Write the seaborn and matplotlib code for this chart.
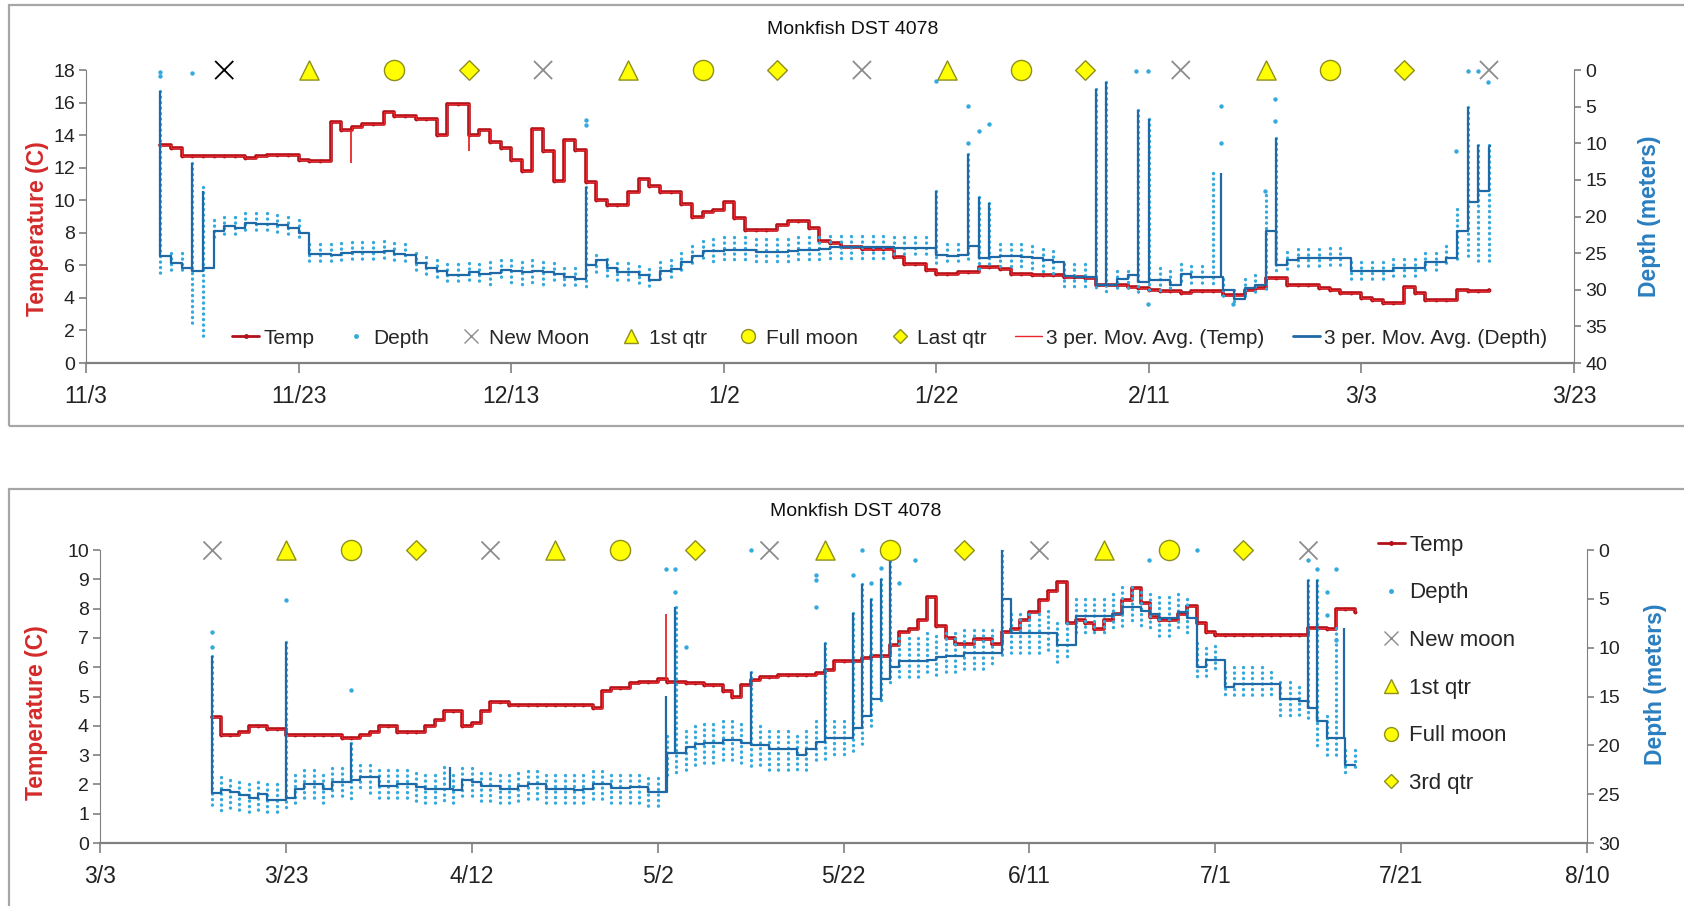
import numpy as np
import pandas as pd
import matplotlib
matplotlib.use('Agg')
import matplotlib.pyplot as plt
import matplotlib.dates as mdates
from matplotlib.lines import Line2D
from matplotlib.patches import Rectangle
from matplotlib.ticker import FixedLocator
import seaborn as sns

sns.set_style('white')
plt.rcParams['font.family'] = ['Liberation Sans', 'DejaVu Sans']

RED = '#b3121a'
MA_RED = '#e8262b'
LIGHT = '#33a9dd'
DARK = '#1f69a6'
GRAY = '#8c8c8c'
YEL = '#ffff00'
YEDGE = '#8f8f1c'
AXC = '#808080'

# ---------- panel 1 : Nov 2009 - Mar 2010 (days counted from 11/3) ----------
top_origin = '2009-11-03'
top_first_day = 7
top_temp = [
    13.4, 13.2, 12.7, 12.7, 12.7, 12.7, 12.7, 12.7, 12.6, 12.7,
    12.8, 12.8, 12.8, 12.5, 12.4, 12.4, 14.8, 14.3, 14.5, 14.7,
    14.7, 15.4, 15.2, 15.2, 15.0, 15.0, 14.0, 15.9, 15.9, 14.0,
    14.3, 13.6, 13.2, 12.5, 11.8, 14.4, 13.0, 11.2, 13.7, 13.1,
    11.1, 10.0, 9.7, 9.7, 10.5, 11.3, 10.9, 10.5, 10.5, 9.8,
    9.0, 9.3, 9.4, 9.9, 8.9, 8.2, 8.2, 8.2, 8.5, 8.7,
    8.7, 8.3, 7.5, 7.4, 7.1, 7.1, 7.0, 7.0, 7.0, 6.5,
    6.1, 6.1, 5.7, 5.5, 5.5, 5.6, 5.6, 5.9, 5.9, 5.8,
    5.5, 5.5, 5.4, 5.4, 5.4, 5.3, 5.3, 5.2, 4.8, 4.8,
    4.8, 4.7, 4.6, 4.5, 4.4, 4.4, 4.3, 4.4, 4.4, 4.4,
    4.2, 4.2, 4.5, 4.6, 5.2, 5.2, 4.8, 4.8, 4.8, 4.6,
    4.5, 4.3, 4.3, 4.0, 3.9, 3.7, 3.7, 4.7, 4.3, 3.9,
    3.9, 3.9, 4.5, 4.4, 4.4, 4.5]
top_depth = [
    25.4, 26.3, 27.0, 27.5, 27.0, 22.0, 21.3, 21.6, 20.9, 21.0,
    21.0, 21.2, 21.5, 22.2, 25.1, 25.1, 25.3, 25.0, 24.9, 24.8,
    24.8, 24.7, 25.1, 25.2, 26.3, 27.0, 27.5, 28.0, 28.0, 27.6,
    27.8, 27.7, 27.3, 27.5, 27.6, 27.4, 27.6, 27.8, 28.3, 28.5,
    26.6, 26.0, 27.0, 27.6, 27.6, 28.0, 28.6, 27.5, 27.2, 26.2,
    25.4, 24.7, 24.7, 24.6, 24.6, 24.6, 24.8, 24.8, 24.8, 24.7,
    24.6, 24.6, 24.5, 24.2, 24.2, 24.2, 24.2, 24.2, 24.2, 24.3,
    24.3, 24.3, 24.3, 25.3, 25.4, 25.3, 24.0, 25.7, 25.5, 25.4,
    25.4, 25.5, 25.6, 26.0, 26.2, 28.1, 28.2, 28.2, 29.3, 29.3,
    28.5, 28.0, 29.0, 28.6, 28.6, 29.3, 27.8, 28.3, 28.3, 28.3,
    30.0, 31.3, 29.8, 29.3, 22.0, 26.6, 26.0, 25.7, 25.7, 25.7,
    25.6, 25.6, 27.5, 27.5, 27.5, 27.5, 27.0, 27.0, 27.0, 26.2,
    26.2, 25.6, 22.0, 18.0, 16.5, 10.5]
top_depth_lo = [
    2.9, 25.0, 25.0, 12.7, 16.0, 20.5, 20.0, 20.0, 19.5, 19.5,
    19.5, 19.8, 20.0, 20.5, 23.8, 23.8, 23.8, 23.6, 23.5, 23.5,
    23.5, 23.3, 23.6, 23.8, 25.0, 25.5, 26.0, 26.5, 26.5, 26.3,
    26.5, 26.2, 26.0, 26.0, 26.2, 26.0, 26.2, 26.3, 27.0, 27.0,
    16.0, 25.2, 25.8, 26.3, 26.3, 26.8, 27.2, 26.2, 26.0, 25.0,
    24.0, 23.3, 23.0, 22.8, 22.8, 22.8, 23.0, 23.0, 23.0, 23.0,
    22.8, 22.8, 22.8, 22.7, 22.7, 22.7, 22.7, 22.7, 22.7, 22.8,
    22.8, 22.8, 22.8, 16.5, 23.8, 23.8, 11.5, 17.4, 18.1, 23.8,
    23.8, 23.8, 24.0, 24.5, 24.7, 26.5, 26.5, 26.5, 2.6, 1.7,
    27.5, 27.5, 5.4, 6.7, 27.0, 27.5, 26.5, 26.8, 26.8, 14.0,
    28.5, 30.0, 28.5, 28.0, 17.0, 9.3, 24.8, 24.5, 24.5, 24.5,
    24.3, 24.3, 26.2, 26.2, 26.2, 26.2, 25.8, 25.8, 25.8, 25.0,
    25.0, 24.0, 19.0, 5.0, 10.3, 10.2]
top_depth_hi = [
    28.0, 27.5, 27.7, 35.0, 37.0, 23.5, 23.0, 22.8, 22.5, 22.5,
    22.5, 22.5, 22.5, 23.5, 26.3, 26.3, 26.5, 26.3, 26.3, 26.5,
    26.3, 26.3, 26.6, 26.8, 27.7, 28.3, 28.8, 29.5, 29.5, 29.2,
    29.3, 29.3, 28.8, 29.5, 29.3, 29.2, 29.3, 29.3, 29.7, 29.8,
    30.0, 27.8, 28.2, 28.8, 28.8, 29.3, 29.8, 28.8, 28.5, 27.5,
    26.8, 26.2, 26.2, 26.3, 26.3, 26.2, 26.3, 26.3, 26.3, 26.2,
    26.2, 26.0, 26.0, 25.8, 25.8, 25.8, 25.8, 25.8, 25.8, 25.8,
    25.8, 25.8, 25.8, 26.8, 26.8, 26.8, 26.5, 27.2, 27.0, 27.0,
    27.0, 27.3, 27.5, 27.8, 28.0, 30.0, 30.0, 30.0, 30.2, 30.3,
    30.3, 30.5, 30.3, 30.3, 30.5, 30.5, 29.2, 29.8, 29.8, 29.8,
    31.5, 32.0, 31.0, 30.5, 30.0, 27.5, 27.2, 27.0, 27.0, 27.0,
    27.0, 26.8, 28.8, 28.8, 28.8, 28.6, 28.4, 28.2, 28.2, 27.5,
    27.3, 26.5, 26.0, 26.0, 26.8, 26.8]
top_spike_day = [7, 10, 11, 47, 80, 83, 84, 85, 95, 96, 99, 100, 106.8, 112, 130, 131, 132.1]
top_spike_depth = [2.9, 12.7, 16.5, 16.0, 16.5, 11.5, 17.4, 18.1, 2.6, 1.7, 5.4, 6.7, 14.0, 9.3, 5.0, 10.3, 10.2]
top_stray_day = [7, 7, 10, 47, 47, 80, 83, 83, 84, 85, 98.8, 99.9, 99.9, 106.8, 106.8, 107.9,
                 110.9, 111.9, 111.9, 128.9, 130, 131, 131.9]
top_stray_depth = [0.3, 0.8, 0.4, 6.8, 7.5, 1.5, 4.9, 9.9, 8.3, 7.4, 0.2, 0.2, 32.0, 4.9, 9.9, 32.0,
                   16.5, 4.0, 7.0, 11.0, 0.2, 0.2, 1.7]
top_temp_spike_day = [24.9, 36.0]
top_temp_spike_val = [12.3, 13.0]
top_new = ['2009-11-16', '2009-12-16', '2010-01-15', '2010-02-14', '2010-03-15']
top_first = ['2009-11-24', '2009-12-24', '2010-01-23', '2010-02-22']
top_full = ['2009-12-02', '2009-12-31', '2010-01-30', '2010-02-28']
top_last = ['2009-12-09', '2010-01-07', '2010-02-05', '2010-03-07']

# ---------- panel 2 : Mar - Jul 2010 (days counted from 3/3) ----------
bot_origin = '2010-03-03'
bot_first_day = 12
bot_temp = [
    4.3, 3.7, 3.7, 3.8, 4.0, 4.0, 3.9, 3.9, 3.7, 3.7,
    3.7, 3.7, 3.7, 3.7, 3.6, 3.6, 3.7, 3.8, 4.0, 4.0,
    3.8, 3.8, 3.8, 4.0, 4.2, 4.5, 4.5, 4.0, 4.1, 4.5,
    4.8, 4.8, 4.7, 4.7, 4.7, 4.7, 4.7, 4.7, 4.7, 4.7,
    4.7, 4.6, 5.2, 5.3, 5.3, 5.45, 5.5, 5.5, 5.6, 5.5,
    5.5, 5.45, 5.45, 5.4, 5.4, 5.2, 5.0, 5.4, 5.55, 5.65,
    5.65, 5.75, 5.75, 5.75, 5.75, 5.8, 5.9, 6.2, 6.2, 6.2,
    6.3, 6.4, 6.4, 6.75, 7.2, 7.3, 7.6, 8.4, 7.4, 7.0,
    6.8, 6.8, 6.95, 6.95, 6.8, 7.2, 7.3, 7.6, 7.9, 8.3,
    8.6, 8.9, 7.5, 7.6, 7.5, 7.3, 7.6, 7.8, 8.3, 8.7,
    8.2, 7.7, 7.6, 7.6, 7.8, 8.1, 7.5, 7.2, 7.1, 7.1,
    7.1, 7.1, 7.1, 7.1, 7.1, 7.1, 7.1, 7.1, 7.35, 7.35,
    7.3, 8.0, 8.0, 7.9]
bot_depth = [
    24.9, 24.6, 24.8, 25.1, 25.4, 25.0, 25.6, 25.6, 25.4, 24.5,
    24.0, 24.0, 24.5, 23.7, 23.7, 23.5, 23.2, 23.2, 24.2, 24.2,
    24.0, 24.0, 24.3, 24.5, 24.5, 24.5, 24.6, 23.5, 23.8, 24.2,
    24.2, 24.5, 24.5, 24.2, 24.0, 24.0, 24.5, 24.5, 24.5, 24.6,
    24.5, 24.0, 24.0, 24.4, 24.4, 24.3, 24.3, 24.8, 24.8, 20.8,
    20.8, 20.2, 19.9, 19.8, 19.8, 19.5, 19.5, 19.8, 20.0, 20.0,
    20.4, 20.4, 20.4, 21.0, 20.4, 19.7, 19.2, 19.2, 19.2, 18.2,
    17.0, 15.3, 13.2, 12.0, 11.4, 11.4, 11.4, 11.3, 11.0, 10.8,
    10.8, 10.5, 10.5, 10.5, 10.5, 5.0, 8.5, 8.5, 8.5, 8.5,
    8.5, 9.7, 9.7, 6.8, 6.8, 6.8, 6.8, 6.5, 5.8, 5.8,
    6.2, 6.6, 7.0, 7.0, 6.3, 7.0, 12.0, 11.3, 11.3, 14.0,
    13.7, 13.7, 13.7, 13.7, 13.7, 15.3, 15.3, 15.5, 16.2, 17.5,
    19.2, 19.2, 22.0, 22.0]
bot_depth_lo = [
    10.9, 23.2, 23.5, 23.8, 24.0, 23.8, 24.0, 24.0, 9.4, 23.0,
    22.5, 22.5, 23.0, 22.3, 22.3, 19.8, 22.0, 22.0, 22.5, 22.5,
    22.5, 22.5, 22.8, 23.0, 23.0, 22.2, 23.0, 22.3, 22.3, 22.8,
    22.8, 23.0, 23.0, 22.8, 22.6, 22.6, 23.0, 23.0, 23.0, 23.0,
    23.0, 22.6, 22.6, 23.0, 23.0, 23.0, 23.0, 23.3, 23.3, 19.0,
    5.8, 18.5, 18.0, 17.8, 17.8, 17.5, 17.5, 17.8, 12.5, 18.0,
    18.5, 18.5, 18.5, 19.0, 18.5, 17.5, 9.5, 17.5, 17.5, 6.4,
    3.5, 5.0, 3.0, 0.0, 9.0, 9.0, 9.0, 8.5, 8.8, 8.5,
    8.5, 8.2, 8.2, 8.2, 8.2, 0.0, 6.5, 6.5, 6.5, 6.5,
    6.2, 7.5, 7.5, 5.0, 5.0, 5.0, 5.0, 4.5, 3.8, 3.8,
    4.3, 4.5, 4.8, 4.8, 4.5, 5.0, 9.5, 10.0, 9.8, 12.5,
    12.0, 12.0, 12.0, 12.0, 12.5, 13.5, 13.5, 14.0, 3.1, 3.1,
    17.0, 8.0, 20.5, 20.5]
bot_depth_hi = [
    26.5, 26.8, 26.8, 26.8, 27.2, 26.8, 27.2, 27.2, 26.5, 26.3,
    25.8, 25.8, 26.2, 25.3, 25.3, 25.5, 24.8, 25.0, 25.6, 25.6,
    25.5, 25.5, 25.8, 26.0, 26.0, 26.0, 26.0, 25.2, 25.5, 25.8,
    25.8, 26.0, 26.0, 25.8, 25.5, 25.5, 26.0, 26.0, 26.0, 26.0,
    26.0, 25.8, 25.5, 26.0, 26.0, 26.0, 26.0, 26.3, 26.3, 23.5,
    23.2, 22.5, 22.0, 22.0, 22.0, 21.5, 22.0, 22.3, 22.3, 22.5,
    22.8, 22.8, 22.8, 22.8, 22.5, 22.0, 21.5, 21.3, 21.3, 21.0,
    20.0, 18.0, 15.5, 14.0, 13.5, 13.2, 13.0, 13.0, 12.8, 12.5,
    12.5, 12.3, 12.3, 12.2, 12.0, 10.8, 10.8, 10.7, 10.7, 10.7,
    10.5, 11.5, 11.0, 8.5, 8.5, 8.5, 8.5, 8.0, 7.8, 7.5,
    8.0, 8.3, 8.8, 8.8, 8.3, 8.8, 13.0, 13.0, 12.5, 15.0,
    15.0, 15.0, 15.0, 15.0, 15.0, 17.0, 17.0, 17.0, 17.5, 20.5,
    21.0, 21.0, 23.0, 22.5]
bot_spike_day = [12, 20, 27, 37.7, 60.9, 61.9, 70, 78, 81, 82, 83, 84, 85, 97, 130, 131, 133.9]
bot_spike_depth = [10.9, 9.4, 19.8, 22.2, 14.9, 5.8, 12.5, 9.5, 6.4, 3.5, 5.0, 3.0, 0.0, 0.0, 3.1, 3.1, 8.0]
bot_stray_day = [12, 12, 20, 27, 60.9, 61.9, 61.9, 63, 70, 77, 77, 77, 81, 82, 83, 84, 86, 87.7,
                 112.9, 118, 130, 131, 132, 132, 133, 133]
bot_stray_depth = [8.4, 9.9, 5.1, 14.3, 1.9, 1.9, 4.3, 9.9, 0.0, 2.6, 3.1, 5.8, 2.6, 0.0, 3.4, 1.8, 3.4, 1.0,
                   1.0, 0.0, 1.0, 1.9, 4.3, 6.7, 1.9, 9.2]
bot_temp_spike_day = [60.9, 97.0]
bot_temp_spike_val = [7.8, 8.5]
bot_new = ['2010-03-15', '2010-04-14', '2010-05-14', '2010-06-12', '2010-07-11']
bot_first = ['2010-03-23', '2010-04-21', '2010-05-20', '2010-06-19']
bot_full = ['2010-03-30', '2010-04-28', '2010-05-27', '2010-06-26']
bot_last = ['2010-04-06', '2010-05-06', '2010-06-04', '2010-07-04']


def day_to_date(origin, d):
    return pd.Timestamp(origin) + pd.to_timedelta(np.asarray(d, dtype=float), unit='D')


def draw_panel(ax, origin, first_day, temp, depth, lo, hi, sp_day, sp_depth, st_day, st_depth,
               tsp_day, tsp_val, moons, tmax, dmax):
    n = len(temp)
    dates = day_to_date(origin, np.arange(n) + first_day)
    ax2 = ax.twinx()

    # temperature (left axis)
    sns.lineplot(x=dates, y=temp, ax=ax, color=RED, lw=2.6, drawstyle='steps-post',
                 marker='.', markersize=5.5, markeredgewidth=0, zorder=3)
    sns.lineplot(x=dates, y=temp, ax=ax, color=MA_RED, lw=0.8, drawstyle='steps-post', zorder=4)
    tsp_dates = day_to_date(origin, tsp_day)
    tsp_base = [temp[min(int(d) - first_day, n - 1)] for d in tsp_day]
    ax.vlines(tsp_dates, tsp_base, tsp_val, colors=MA_RED, lw=1.3, zorder=4)

    # depth (right axis, inverted)
    stacks = ax2.vlines(dates, lo, hi, colors=LIGHT, lw=2.4, linestyles=(0, (0.05, 1.6)), zorder=2)
    stacks.set_capstyle('round')
    sns.scatterplot(x=day_to_date(origin, st_day), y=st_depth, ax=ax2, color=LIGHT, s=10,
                    linewidth=0, zorder=2, clip_on=False)
    sns.lineplot(x=dates, y=depth, ax=ax2, color=DARK, lw=1.6, drawstyle='steps-post', zorder=3)
    sp_base = [depth[min(int(d) - first_day, n - 1)] for d in sp_day]
    ax2.vlines(day_to_date(origin, sp_day), sp_depth, sp_base, colors=DARK, lw=1.6, zorder=3)

    # moon phases along the top edge
    new, first, full, last, new_colors = moons
    sns.scatterplot(x=pd.to_datetime(new), y=[0] * len(new), ax=ax2, marker='x', s=170,
                    color=new_colors, linewidth=1.3, zorder=5, clip_on=False)
    sns.scatterplot(x=pd.to_datetime(first), y=[0] * len(first), ax=ax2, marker='^', s=190,
                    color=YEL, edgecolor=YEDGE, linewidth=1, zorder=5, clip_on=False)
    sns.scatterplot(x=pd.to_datetime(full), y=[0] * len(full), ax=ax2, marker='o', s=210,
                    color=YEL, edgecolor=YEDGE, linewidth=1, zorder=5, clip_on=False)
    sns.scatterplot(x=pd.to_datetime(last), y=[0] * len(last), ax=ax2, marker='D', s=100,
                    color=YEL, edgecolor=YEDGE, linewidth=1, zorder=5, clip_on=False)

    ax.set_ylim(0, tmax)
    ax2.set_ylim(dmax, 0)
    ticks = pd.date_range(origin, periods=9 if dmax == 30 else 8, freq='20D')
    ax.set_xlim(ticks[0], ticks[-1])
    ax.xaxis.set_major_locator(FixedLocator(mdates.date2num(ticks)))
    ax.xaxis.set_major_formatter(mdates.DateFormatter('%-m/%-d'))
    ax.set_yticks(range(0, tmax + 1, 2 if tmax > 10 else 1))
    ax2.set_yticks(range(0, dmax + 1, 5))

    for a in (ax, ax2):
        for s in a.spines.values():
            s.set_visible(False)
        a.set_xlabel('')
    ax.spines['left'].set_visible(True)
    ax.spines['bottom'].set_visible(True)
    ax2.spines['right'].set_visible(True)
    ax.spines['left'].set_color(AXC)
    ax.spines['bottom'].set_color(AXC)
    ax2.spines['right'].set_color(AXC)
    ax.spines['bottom'].set_linewidth(1.6)
    ax.tick_params(axis='x', direction='out', length=7, width=1.2, color=AXC, labelsize=16.5,
                   pad=9, labelcolor='#222222', bottom=True)
    ax.tick_params(axis='y', direction='out', length=5, width=1.2, color=AXC, labelsize=14,
                   pad=3, labelcolor='#222222', left=True)
    ax2.tick_params(axis='y', direction='out', length=5, width=1.2, color=AXC, labelsize=14,
                    pad=3, labelcolor='#222222', right=True)
    ax.set_ylabel('Temperature (C)', color='#d42a2a', fontsize=16.5, fontweight='bold')
    ax2.set_ylabel('Depth (meters)', color='#2a7fc0', fontsize=16.5, fontweight='bold')
    return ax2


fig = plt.figure(figsize=(16.84, 9.06), dpi=100)
fig.patches.append(Rectangle((0.0053, 0.5298), 1.0, 0.4647, transform=fig.transFigure,
                             fill=False, edgecolor='#a6a6a6', lw=1.6))
fig.patches.append(Rectangle((0.0053, -0.02), 1.0, 0.4803, transform=fig.transFigure,
                             fill=False, edgecolor='#a6a6a6', lw=1.6))

ax_top = fig.add_axes([0.0511, 0.5993, 0.8836, 0.3234])
top_new_colors = ['#000000'] + [GRAY] * (len(top_new) - 1)
ax_top2 = draw_panel(ax_top, top_origin, top_first_day, top_temp, top_depth, top_depth_lo, top_depth_hi,
                     top_spike_day, top_spike_depth, top_stray_day, top_stray_depth,
                     top_temp_spike_day, top_temp_spike_val,
                     (top_new, top_first, top_full, top_last, top_new_colors), 18, 40)
ax_top.yaxis.set_label_coords(-0.025, 0.46)
ax_top2.yaxis.set_label_coords(1.043, 0.50)
ax_top.text(0.515, 1.14, 'Monkfish DST 4078', transform=ax_top.transAxes, ha='center', va='center',
            fontsize=14, color='#111111')

ax_bot = fig.add_axes([0.0594, 0.0695, 0.8830, 0.3234])
ax_bot2 = draw_panel(ax_bot, bot_origin, bot_first_day, bot_temp, bot_depth, bot_depth_lo, bot_depth_hi,
                     bot_spike_day, bot_spike_depth, bot_stray_day, bot_stray_depth,
                     bot_temp_spike_day, bot_temp_spike_val,
                     (bot_new, bot_first, bot_full, bot_last, GRAY), 10, 30)
ax_bot.yaxis.set_label_coords(-0.035, 0.444)
ax_bot2.yaxis.set_label_coords(1.038, 0.543)
ax_bot.text(0.508, 1.13, 'Monkfish DST 4078', transform=ax_bot.transAxes, ha='center', va='center',
            fontsize=14, color='#111111')


def moon_handles(last_label, new_label):
    return [
        Line2D([], [], color=RED, lw=2, marker='.', ms=5, label='Temp'),
        Line2D([], [], color=LIGHT, ls='none', marker='.', ms=5, label='Depth'),
        Line2D([], [], color=GRAY, ls='none', marker='x', ms=10, mew=1, label=new_label),
        Line2D([], [], color=YEL, mec=YEDGE, ls='none', marker='^', ms=10, label='1st qtr'),
        Line2D([], [], color=YEL, mec=YEDGE, ls='none', marker='o', ms=10, label='Full moon'),
        Line2D([], [], color=YEL, mec=YEDGE, ls='none', marker='D', ms=7, label=last_label),
    ]


top_handles = moon_handles('Last qtr', 'New Moon') + [
    Line2D([], [], color=MA_RED, lw=1, label='3 per. Mov. Avg. (Temp)'),
    Line2D([], [], color=DARK, lw=2, label='3 per. Mov. Avg. (Depth)'),
]
ax_top2.legend(handles=top_handles, loc='center', bbox_to_anchor=(0.54, 0.085), ncol=8,
               frameon=False, fontsize=15, handlelength=1.3, handletextpad=0.2,
               columnspacing=1.35, borderpad=0)

ax_bot2.legend(handles=moon_handles('3rd qtr', 'New moon'), loc='upper left',
               bbox_to_anchor=(0.852, 1.09), frameon=False, fontsize=16, handlelength=1.2,
               handletextpad=0.2, labelspacing=1.2, borderpad=0)

fig.savefig('out.png', dpi=100)
